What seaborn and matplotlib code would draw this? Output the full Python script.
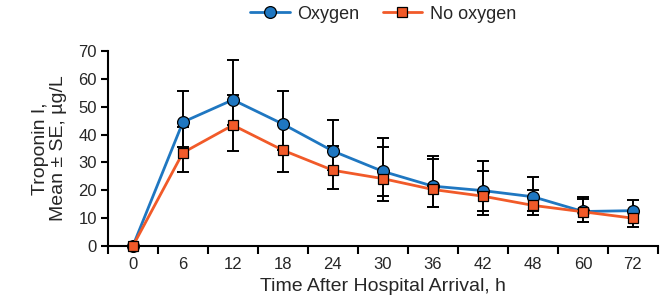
import numpy as np
import pandas as pd
import matplotlib.pyplot as plt
import seaborn as sns

# Troponin I over time
hours = ['0', '6', '12', '18', '24', '30', '36', '42', '48', '60', '72']

oxy_mean = [0, 44.5, 52.5, 43.8, 34.1, 26.8, 21.5, 19.9, 17.7, 12.4, 12.7]
oxy_lo = [0, 35.5, 43.4, 34.4, 27.2, 16.2, 13.9, 12.7, 12.7, 8.5, 10.0]
oxy_hi = [0, 55.8, 66.7, 55.8, 45.1, 38.8, 32.4, 30.5, 24.8, 17.5, 16.5]

nox_mean = [0, 33.5, 43.4, 34.4, 27.2, 24.2, 20.3, 17.9, 14.6, 12.3, 10.0]
nox_lo = [0, 26.6, 34.3, 26.6, 20.6, 18.1, 13.9, 11.1, 11.2, 8.5, 6.9]
nox_hi = [0, 42.8, 54.3, 43.8, 36.0, 35.7, 31.3, 26.9, 20.1, 17.0, 12.7]

blue = '#1f77c1'
orange = '#f15a29'

pos = np.arange(len(hours))
df = pd.DataFrame({
    'pos': np.concatenate([pos, pos]),
    'Troponin': oxy_mean + nox_mean,
    'Group': ['Oxygen'] * len(hours) + ['No oxygen'] * len(hours),
})

sns.set_style('ticks')
plt.rcParams['font.family'] = ['Liberation Sans', 'DejaVu Sans']

fig = plt.figure(figsize=(6.7, 3.06), dpi=100)
ax = fig.add_axes([0.161, 0.196, 0.821, 0.637])

# error bars first so markers sit on top
for mean, lo, hi in [(oxy_mean, oxy_lo, oxy_hi), (nox_mean, nox_lo, nox_hi)]:
    m = np.array(mean)
    yerr = [m - np.array(lo), np.array(hi) - m]
    ax.errorbar(pos, m, yerr=yerr, fmt='none', ecolor='black',
                elinewidth=1.4, capsize=4, capthick=1.4, zorder=2)

sns.lineplot(data=df[df.Group == 'Oxygen'], x='pos', y='Troponin', ax=ax,
             color=blue, marker='o', markersize=8.5, markeredgecolor='black',
             markeredgewidth=0.9, linewidth=2, label='Oxygen', zorder=3,
             clip_on=False)
sns.lineplot(data=df[df.Group == 'No oxygen'], x='pos', y='Troponin', ax=ax,
             color=orange, marker='s', markersize=7.5, markeredgecolor='black',
             markeredgewidth=0.9, linewidth=2, label='No oxygen', zorder=4,
             clip_on=False)

ax.set_xlim(-0.5, len(hours) - 0.5)
ax.set_ylim(0, 70)
ax.set_yticks(range(0, 71, 10))

# labels at category centres, tick marks at category boundaries
ax.set_xticks(pos)
ax.set_xticklabels(hours)
ax.set_xticks(np.arange(-0.5, len(hours), 1), minor=True)
ax.tick_params(axis='x', which='major', length=0, pad=8, labelsize=12)
ax.tick_params(axis='x', which='minor', length=6, width=1.5, color='black')
ax.tick_params(axis='y', length=5, width=1.5, color='black', labelsize=12, pad=3)

sns.despine(ax=ax)
for s in ['left', 'bottom']:
    ax.spines[s].set_linewidth(1.5)
    ax.spines[s].set_color('black')

ax.set_xlabel('Time After Hospital Arrival, h', fontsize=14, labelpad=4)
ax.set_ylabel('Troponin I,\nMean \u00b1 SE, \u00b5g/L', fontsize=14, labelpad=8,
              linespacing=1.1)

ax.legend(loc='center', bbox_to_anchor=(0.5, 1.19), ncol=2, frameon=False,
          fontsize=13, handlelength=2.2, handletextpad=0.4, columnspacing=1.3)

fig.savefig('out.png', dpi=100)
